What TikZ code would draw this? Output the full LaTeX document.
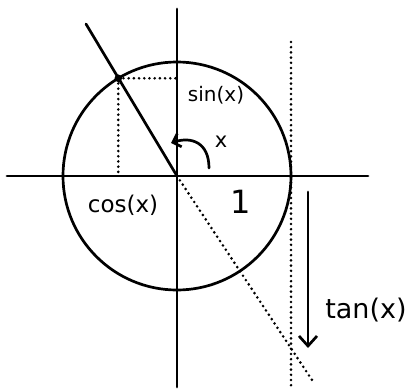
\documentclass[tikz,border=0pt]{standalone}
\usepackage{fontspec}
\setmainfont{DejaVu Sans}
\usetikzlibrary{arrows.meta,calc}
\begin{document}
\begin{tikzpicture}[x=1pt,y=1pt,
  solidline/.style={line width=2.7pt, line cap=round},
  dotline/.style={line width=2.9pt, line cap=round, dash pattern=on 0pt off 5.2pt},
  lbl/.style={inner sep=0pt}]
\useasboundingbox (0,0) rectangle (409,389);
% key points
\coordinate (O) at (177,213);
\coordinate (L) at (7,213);
\coordinate (R) at (368,213);
\coordinate (T) at (177,380);
\coordinate (B) at (177,2);
\coordinate (P) at ($(O)+(121:114)$);
\coordinate (E) at (86,365);
\coordinate (Q) at (312,9);
\coordinate (Px) at (177,310.7);
\coordinate (Py) at (118.3,213);
\coordinate (TT) at (291,347);
\coordinate (TB) at (291,0);
\coordinate (A1) at (308,197);
\coordinate (A2) at (308,41);
\coordinate (S1) at (209,221);
\coordinate (S2) at (171,246);
% circle and axes
\draw[solidline] (O) circle (114);
\draw[solidline] (L) -- (R);
\draw[solidline] (B) -- (T);
% radius line
\draw[solidline] (O) -- (E);
\fill (P) circle (3.8);
% dotted projections
\draw[dotline] (P) -- (Px);
\draw[dotline] (P) -- (Py);
\draw[dotline] (O) -- (Q);
\draw[dotline] (TT) -- (TB);
% tan arrow
\draw[solidline, -{Straight Barb[length=10pt,width=18pt,line width=2.7pt]}] (A1) -- (A2);
% angle arrow
\draw[solidline, -{Straight Barb[length=7pt,width=14pt,line width=2.7pt]}] (S1) .. controls (209,246) and (192,253) .. (S2);
% labels
\node[lbl, font=\fontsize{20}{20}\selectfont] (sin) at (216,294) {sin(x)};
\node[lbl, font=\fontsize{21}{21}\selectfont] (xl) at (221,247) {x};
\node[lbl, font=\fontsize{23}{23}\selectfont] (cos) at (123,184) {cos(x)};
\node[lbl, font=\fontsize{32}{32}\selectfont] (one) at (241,187) {1};
\node[lbl, font=\fontsize{27}{27}\selectfont] (tan) at (366,79) {tan(x)};
\end{tikzpicture}
\end{document}
